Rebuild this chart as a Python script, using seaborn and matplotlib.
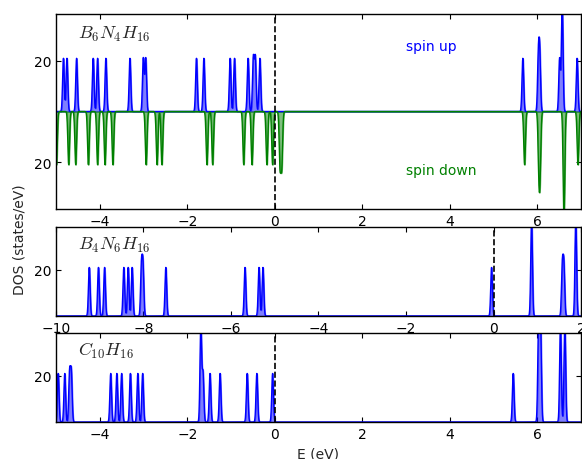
import numpy as np
import pandas as pd
import matplotlib
matplotlib.use("Agg")
import matplotlib.pyplot as plt
import seaborn as sns
from matplotlib.ticker import FuncFormatter

# Molecular levels (eV) and their degeneracies, broadened into a DOS curve
bn_up_levels = [-4.83, -4.75, -4.53, -4.15, -4.05, -3.86, -3.31, -3.005, -2.95,
                -1.79, -1.62, -1.02, -0.92, -0.61, -0.49, -0.445, -0.34,
                5.67, 6.025, 6.057, 6.51, 6.57, 6.91]
bn_up_degen = [1, 1, 1, 1, 1, 1, 1, 1, 1,
               1, 1, 1, 1, 1, 1, 1, 1,
               1, 1, 1, 1, 2, 1]

bn_down_levels = [-4.99, -4.71, -4.55, -4.26, -4.05, -3.88, -3.70, -2.94, -2.69, -2.58,
                  -1.55, -1.42, -0.71, -0.52, -0.18, -0.05, 0.12, 0.16,
                  5.71, 6.036, 6.064, 6.61, 6.93]
bn_down_degen = [1, 1, 1, 1, 1, 1, 1, 1, 1, 1,
                 1, 1, 1, 1, 1, 1, 1, 1,
                 1, 1, 1, 2, 1]

b4n6_levels = [-9.24, -9.03, -8.89, -8.45, -8.35, -8.26, -8.048, -8.012, -7.49,
               -5.68, -5.36, -5.27, -0.045, 0.87, 1.572, 1.608, 1.88]
b4n6_degen = [1, 1, 1, 1, 1, 1, 1, 1, 1,
              1, 1, 1, 1, 2, 1, 1, 2]

c10_levels = [-4.95, -4.80, -4.69, -4.65, -3.75, -3.61, -3.50, -3.30, -3.13, -3.02,
              -1.69, -1.64, -1.48, -1.25, -0.63, -0.41, -0.05,
              5.45, 6.03, 6.075, 6.53, 6.63]
c10_degen = [1, 1, 1, 1, 1, 1, 1, 1, 1, 1,
             2, 1, 1, 1, 1, 1, 1,
             1, 2, 2, 2, 2]

panel_labels = [r"$B_6N_4H_{16}$", r"$B_4N_6H_{16}$", r"$C_{10}H_{16}$"]
xticks_a = [-4, -2, 0, 2, 4, 6]
xticks_b = [-10, -8, -6, -4, -2, 0, 2]

SIGMA = 0.019  # Gaussian broadening (eV)


def broaden(grid, levels, degen):
    e = np.asarray(levels)[:, None]
    w = np.asarray(degen, dtype=float)[:, None]
    g = np.exp(-(grid[None, :] - e) ** 2 / (2 * SIGMA ** 2))
    return (w * g).sum(axis=0) / (SIGMA * np.sqrt(2 * np.pi))


sns.set_theme(style="ticks")
plt.rcParams.update({
    "font.family": ["DejaVu Sans"],
    "mathtext.fontset": "cm",
    "axes.edgecolor": "black",
    "axes.linewidth": 1.0,
    "xtick.color": "black",
    "ytick.color": "black",
    "xtick.direction": "in",
    "ytick.direction": "in",
    "xtick.top": True,
    "ytick.right": True,
    "xtick.major.size": 3.5,
    "ytick.major.size": 3.5,
    "xtick.major.width": 0.8,
    "ytick.major.width": 0.8,
    "xtick.labelsize": 10,
    "ytick.labelsize": 10,
    "axes.labelsize": 10,
})

fig = plt.figure(figsize=(5.82, 4.60), dpi=100)
ax_top = fig.add_axes([0.0962, 0.5435, 0.9021, 0.4239])
ax_mid = fig.add_axes([0.0962, 0.3109, 0.9021, 0.1935])
ax_bot = fig.add_axes([0.0962, 0.0804, 0.9021, 0.1935])

abs_fmt = FuncFormatter(lambda v, p: f"{abs(v):g}")
YMAX = 38.5


def draw(ax, grid, dos, color, sign=1):
    df = pd.DataFrame({"E": grid, "dos": sign * dos})
    sns.lineplot(data=df, x="E", y="dos", color=color, lw=1.0, ax=ax,
                 estimator=None, sort=False)
    return df


# Top panel: spin-resolved DOS
grid_a = np.arange(-5.2, 7.2, 0.002)
up = broaden(grid_a, bn_up_levels, bn_up_degen)
dn = broaden(grid_a, bn_down_levels, bn_down_degen)
df_up = draw(ax_top, grid_a, up, "#0000ff")
df_dn = draw(ax_top, grid_a, dn, "#008000", sign=-1)
ax_top.fill_between(df_up["E"], 0, df_up["dos"], color="#0000ff", alpha=0.5)
ax_top.fill_between(df_dn["E"], 0, df_dn["dos"], color="#008000", alpha=0.5)
ax_top.set_ylim(-YMAX, YMAX)
ax_top.set_yticks([-20, 20])
ax_top.text(3.0, 26, "spin up", color="#0000ff", fontsize=10, va="center")
ax_top.text(3.0, -23, "spin down", color="#008000", fontsize=10, va="center")

# Middle panel
grid_b = np.arange(-10.2, 2.2, 0.002)
mid = broaden(grid_b, b4n6_levels, b4n6_degen)
df_mid = draw(ax_mid, grid_b, mid, "#0000ff")
ax_mid.fill_between(df_mid["E"], 0, df_mid["dos"], color="#0000ff", alpha=0.5)

# Bottom panel
bot = broaden(grid_a, c10_levels, c10_degen)
df_bot = draw(ax_bot, grid_a, bot, "#0000ff")
ax_bot.fill_between(df_bot["E"], 0, df_bot["dos"], color="#0000ff", alpha=0.5)

for ax in (ax_mid, ax_bot):
    ax.set_ylim(0, YMAX)
    ax.set_yticks([20])

for ax, xt, label in zip((ax_top, ax_mid, ax_bot), (xticks_a, xticks_b, xticks_a), panel_labels):
    ax.set_xlim(xt[0] - 1 if xt is xticks_a else xt[0], xt[-1] + 1 if xt is xticks_a else xt[-1])
    ax.set_xticks(xt)
    ax.yaxis.set_major_formatter(abs_fmt)
    ax.axvline(0, color="black", ls="--", lw=1.2, zorder=5)
    x0 = ax.get_xlim()[0]
    ax.text(x0 + 0.5, 29, label, fontsize=13)
    ax.set_xlabel("")
    ax.set_ylabel("")

ax_bot.set_xlabel("E (eV)", fontsize=10)
fig.text(0.034, 0.478, "DOS (states/eV)", rotation=90, va="center", ha="center", fontsize=10)

fig.savefig("out.png", dpi=100)
